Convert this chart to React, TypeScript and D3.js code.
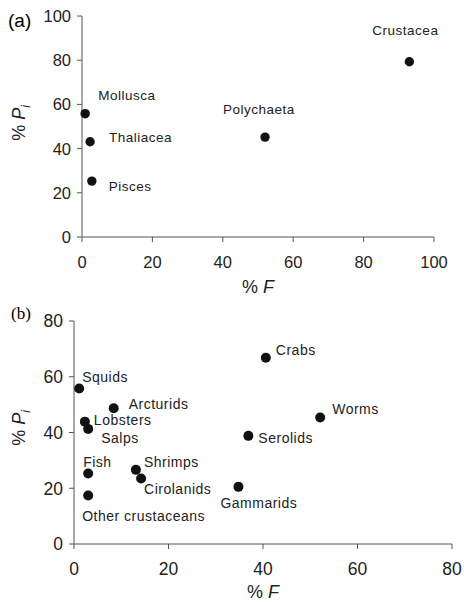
import React from "react";
import * as d3 from "d3";

const groupsA = ["Mollusca", "Thaliacea", "Pisces", "Polychaeta", "Crustacea"];
const freqA = [0.9, 2.3, 2.8, 52, 93];
const pinA = [55.8, 43.1, 25.3, 45.2, 79.3];
const labelOffA: [number, number][] = [[13, -14], [19, 0], [17, 10], [-42, -23], [-37, -27]];
const ticksA = [0, 20, 40, 60, 80, 100];

const groupsB = ["Squids", "Crabs", "Arcturids", "Lobsters", "Salps", "Worms", "Serolids", "Fish", "Shrimps", "Cirolanids", "Gammarids", "Other crustaceans"];
const freqB = [1.1, 40.6, 8.4, 2.3, 3.0, 52.1, 36.9, 3.0, 13.1, 14.2, 34.8, 3.0];
const pinB = [55.8, 66.8, 48.7, 43.9, 41.3, 45.4, 38.8, 25.3, 26.6, 23.5, 20.5, 17.4];
const labelOffB: [number, number][] = [[3, -6], [10, -3], [15, 1], [9, 3], [13, 14], [12, -3], [10, 7], [-5, -6], [8, -3], [3, 16], [-18, 21], [-6, 26]];
const ticksB = [0, 20, 40, 60, 80];

const FONT = "Liberation Sans, Arial, sans-serif";
const AXIS = "#555";

function Panel(props: {
  tag: string; tagSerif: boolean; tagX: number; tagY: number;
  x0: number; x1: number; y0: number; y1: number; max: number; ticks: number[];
  names: string[]; fx: number[]; py: number[]; offs: [number, number][];
  tickFont: number; labelFont: number; r: number; xTitleY: number; yTitleY: number;
}) {
  const p = props;
  const x = d3.scaleLinear().domain([0, p.max]).range([p.x0, p.x1]);
  const y = d3.scaleLinear().domain([0, p.max]).range([p.y0, p.y1]);
  const cx = (p.x0 + p.x1) / 2;
  return (
    <g>
      <text x={p.tagX} y={p.tagY} fontFamily={p.tagSerif ? "Liberation Serif, Times New Roman, serif" : FONT} fontSize={p.tagSerif ? 17 : 19}>{p.tag}</text>
      <line x1={p.x0} x2={p.x0} y1={p.y0} y2={p.y1} stroke={AXIS} strokeWidth={1} />
      <line x1={p.x0} x2={p.x1} y1={p.y0} y2={p.y0} stroke={AXIS} strokeWidth={1} />
      {p.ticks.map((t) => (
        <g key={"y" + t}>
          <line x1={p.x0 - 5} x2={p.x0} y1={y(t)} y2={y(t)} stroke={AXIS} />
          <text x={p.x0 - 11} y={y(t)} dy="0.36em" textAnchor="end" fontFamily={FONT} fontSize={p.tickFont} fill="#222">{t}</text>
        </g>
      ))}
      {p.ticks.map((t) => (
        <g key={"x" + t}>
          <line x1={x(t)} x2={x(t)} y1={p.y0} y2={p.y0 + 5} stroke={AXIS} />
          <text x={x(t)} y={p.y0 + 31} textAnchor="middle" fontFamily={FONT} fontSize={p.tickFont} fill="#222">{t}</text>
        </g>
      ))}
      <text x={cx} y={p.xTitleY} textAnchor="middle" fontFamily={FONT} fontSize={18} fill="#222">
        % <tspan fontStyle="italic">F</tspan>
      </text>
      <text transform={`translate(25,${p.yTitleY}) rotate(-90)`} textAnchor="middle" fontFamily={FONT} fontSize={18} fill="#222">
        % <tspan fontStyle="italic">P</tspan><tspan fontStyle="italic" fontSize={12} dy={5}>i</tspan>
      </text>
      {p.names.map((n, i) => (
        <g key={n}>
          <circle cx={x(p.fx[i])} cy={y(p.py[i])} r={p.r} fill="#111" />
          <text x={x(p.fx[i]) + p.offs[i][0]} y={y(p.py[i]) + p.offs[i][1]} fontFamily={FONT} fontSize={p.labelFont} letterSpacing={0.5} fill="#222">{n}</text>
        </g>
      ))}
    </g>
  );
}

export default function App() {
  return (
    <svg width={464} height={604} style={{ position: "absolute", left: 0, top: 0, background: "#fff" }}>
      <rect width={464} height={604} fill="#fff" />
      <Panel tag="(a)" tagSerif={false} tagX={8} tagY={27} x0={82} x1={434} y0={237} y1={16} max={100} ticks={ticksA}
        names={groupsA} fx={freqA} py={pinA} offs={labelOffA} tickFont={16.5} labelFont={13.5} r={4.7} xTitleY={293} yTitleY={123} />
      <Panel tag="(b)" tagSerif={true} tagX={11} tagY={319} x0={74} x1={452} y0={544} y1={321} max={80} ticks={ticksB}
        names={groupsB} fx={freqB} py={pinB} offs={labelOffB} tickFont={17.5} labelFont={14} r={5} xTitleY={598} yTitleY={428} />
    </svg>
  );
}
